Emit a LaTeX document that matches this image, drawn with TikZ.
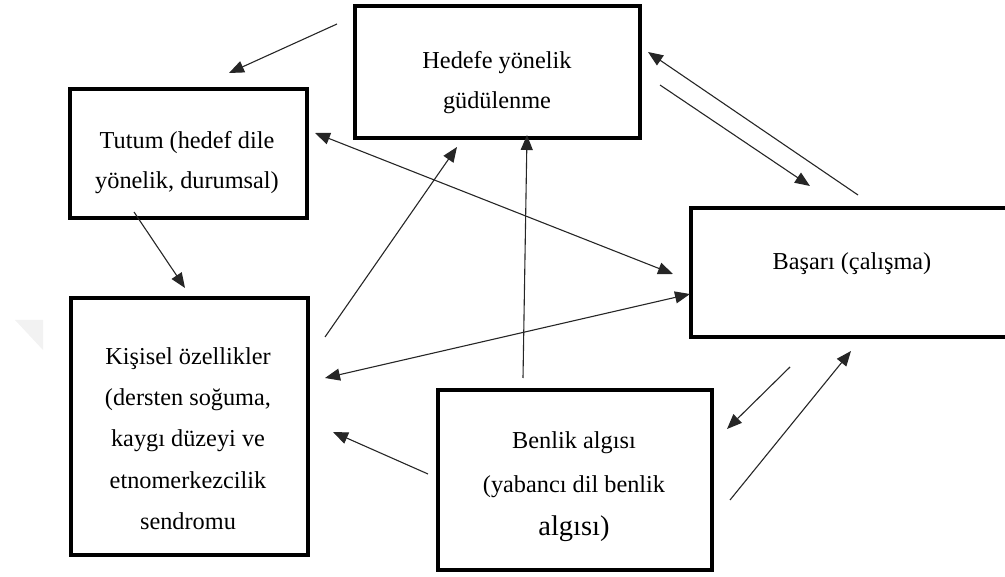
\documentclass[tikz,border=0pt]{standalone}
\usepackage{fontspec}
\setmainfont{Liberation Serif}
\usetikzlibrary{arrows.meta}
\begin{document}
\begin{tikzpicture}[x=1pt,y=-1pt,
  box/.style={draw, line width=4.5pt, inner sep=0pt},
  label/.style={align=center, inner sep=0pt, font=\fontsize{24.3}{40}\selectfont},
  link/.style={line width=1.1pt, draw=black!85, -{Triangle[length=15pt,width=12pt]}},
  twoway/.style={line width=1.1pt, draw=black!85, {Triangle[length=15pt,width=12pt]}-{Triangle[length=15pt,width=12pt]}}]
\useasboundingbox (0,0) rectangle (1005,577);
\clip (0,0) rectangle (1005,577);

% faint mark at the left margin
\fill[black!5] (15,320) -- (43,320) -- (43,350) -- cycle;

% boxes
\node[box, minimum width=285pt, minimum height=132pt] (hedef)   at (497.5,72) {};
\node[box, minimum width=237pt, minimum height=129pt] (tutum)   at (188.5,153.5) {};
\node[box, minimum width=329pt, minimum height=129pt] (basari)  at (855.5,272.5) {};
\node[box, minimum width=237pt, minimum height=257pt] (kisisel) at (189.5,426.5) {};
\node[box, minimum width=274pt, minimum height=180pt] (benlik)  at (575,480) {};

% texts
\node[label] (hedefT) at (497,83) {Hedefe yönelik\\güdülenme};
\node[label] (tutumT) at (187,163) {Tutum (hedef dile\\yönelik, durumsal)};
\node[label] (basariT) at (852,264) {Başarı (çalışma)};
\node[label, font=\fontsize{24.3}{41.25}\selectfont] (kisiselT) at (188,438.5) {Kişisel özellikler\\(dersten soğuma,\\kaygı düzeyi ve\\etnomerkezcilik\\sendromu};
\node[label, font=\fontsize{24.3}{43.5}\selectfont] (benlikT) at (574,487) {Benlik algısı\\(yabancı dil benlik\\{\fontsize{28.5}{43.5}\selectfont algısı)}};

% connector ends
\coordinate (a1s) at (337,24);   \coordinate (a1e) at (229,73);
\coordinate (a2s) at (315,133);  \coordinate (a2e) at (673,274);
\coordinate (a3s) at (134,212);  \coordinate (a3e) at (185,288);
\coordinate (a4s) at (325,337);  \coordinate (a4e) at (457,147);
\coordinate (a5s) at (523,378);  \coordinate (a5e) at (527,135);
\coordinate (a6s) at (325,378);  \coordinate (a6e) at (690,294);
\coordinate (a7s) at (428,474);  \coordinate (a7e) at (333,432);
\coordinate (a8s) at (858,195);  \coordinate (a8e) at (648,52);
\coordinate (a9s) at (660,85);   \coordinate (a9e) at (810,186);
\coordinate (a10s) at (790,367); \coordinate (a10e) at (727,429);
\coordinate (a11s) at (730,500); \coordinate (a11e) at (851,351);

% connectors
\draw[link] (a1s) -- (a1e);
\draw[twoway] (a2s) -- (a2e);
\draw[link] (a3s) -- (a3e);
\draw[link] (a4s) -- (a4e);
\draw[link] (a5s) -- (a5e);
\draw[twoway] (a6s) -- (a6e);
\draw[link] (a7s) -- (a7e);
\draw[link] (a8s) -- (a8e);
\draw[link] (a9s) -- (a9e);
\draw[link] (a10s) -- (a10e);
\draw[link] (a11s) -- (a11e);
\end{tikzpicture}
\end{document}
